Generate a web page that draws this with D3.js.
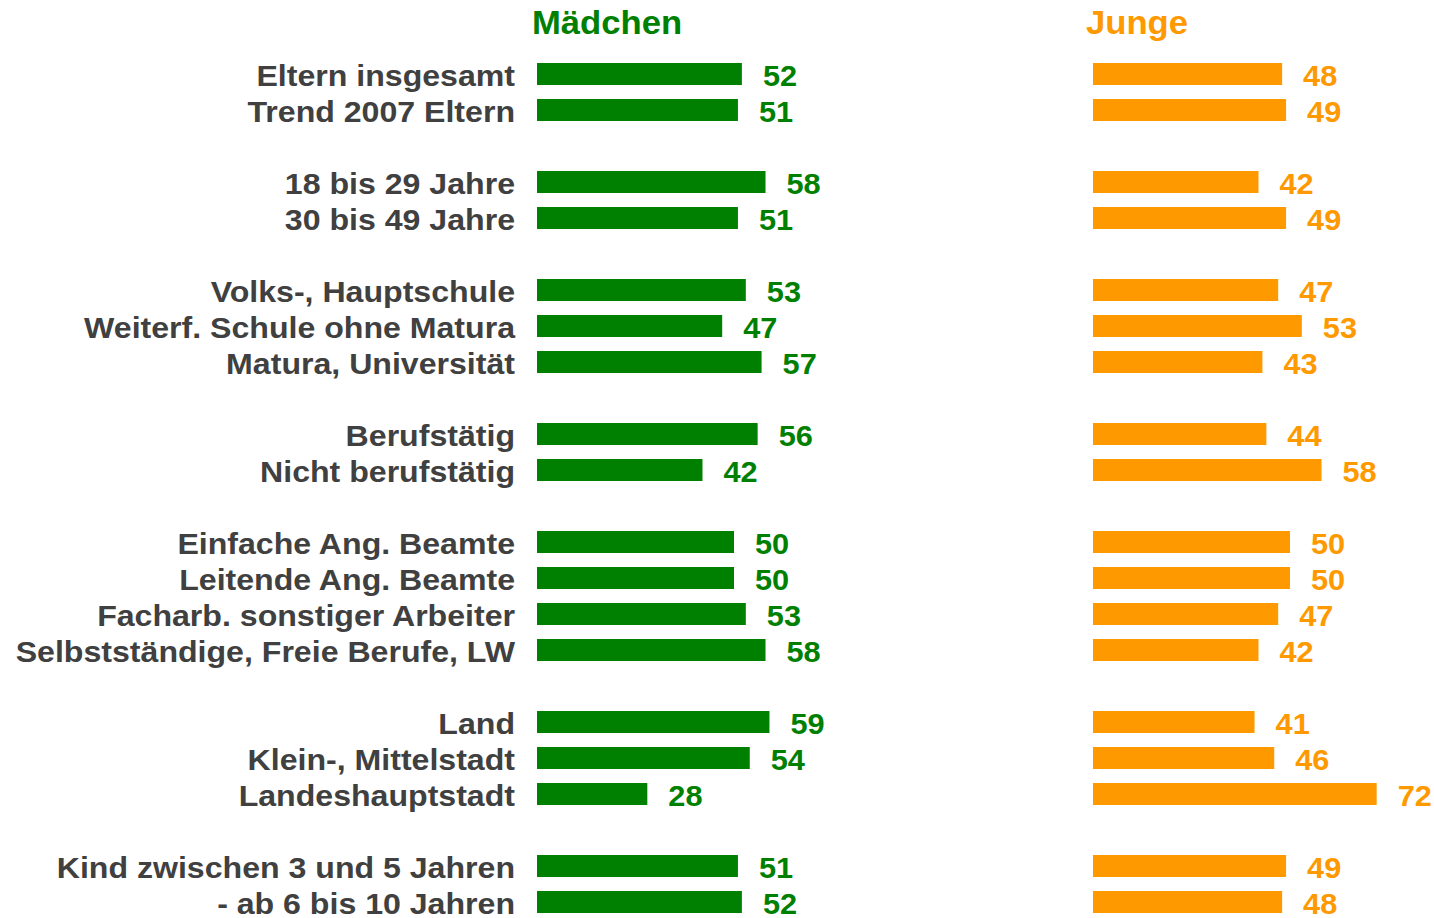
<!DOCTYPE html>
<html>
<head>
<meta charset="utf-8">
<script src="https://cdn.jsdelivr.net/npm/d3@7"></script>
<style>
  body { margin: 0; background: white; }
  text { font-family: "Liberation Sans", Arial, sans-serif; font-weight: bold; }
</style>
</head>
<body>
<div id="chart"></div>
<script>
const width = 1434;
const height = 918;

const categories = [
  "Eltern insgesamt", "Trend 2007 Eltern",
  "18 bis 29 Jahre", "30 bis 49 Jahre",
  "Volks-, Hauptschule", "Weiterf. Schule ohne Matura", "Matura, Universität",
  "Berufstätig", "Nicht berufstätig",
  "Einfache Ang. Beamte", "Leitende Ang. Beamte", "Facharb. sonstiger Arbeiter", "Selbstständige, Freie Berufe, LW",
  "Land", "Klein-, Mittelstadt", "Landeshauptstadt",
  "Kind zwischen 3 und 5 Jahren", "- ab 6 bis 10 Jahren"
];
// group each row belongs to (an empty row separates groups)
const groups = [0, 0, 1, 1, 2, 2, 2, 3, 3, 4, 4, 4, 4, 5, 5, 5, 6, 6];
const maedchen = [52, 51, 58, 51, 53, 47, 57, 56, 42, 50, 50, 53, 58, 59, 54, 28, 51, 52];
const junge = [48, 49, 42, 49, 47, 53, 43, 44, 58, 50, 50, 47, 42, 41, 46, 72, 49, 48];
const seriesNames = ["Mädchen", "Junge"];

const green = "#008000";
const orange = "#ff9900";
const labelColor = "#404040";

const rows = categories.map((c, i) => ({
  name: c,
  row: i + groups[i],
  m: maedchen[i],
  j: junge[i]
}));

const svg = d3.select("#chart")
  .append("svg")
  .attr("width", width)
  .attr("height", height);

const y = d3.scaleLinear().domain([0, 1]).range([74, 110]);
const xM = d3.scaleLinear().domain([0, 100]).range([537, 537 + 394]);
const xJ = d3.scaleLinear().domain([0, 100]).range([1093, 1093 + 394]);
const barH = 22;
const fontSize = 29;

// the original glyphs are a bit wider than Liberation Sans, so stretch them
const place = (x, yy, k) => `translate(${x},${yy}) scale(${k},1)`;

// category labels
svg.selectAll("text.cat")
  .data(rows)
  .enter()
  .append("text")
  .attr("class", "cat")
  .attr("transform", d => place(515, y(d.row) + 12, 1.107))
  .attr("text-anchor", "end")
  .attr("fill", labelColor)
  .style("font-size", fontSize + "px")
  .text(d => d.name);

const panels = [
  {key: "m", x: xM, color: green, name: seriesNames[0], hx: 532},
  {key: "j", x: xJ, color: orange, name: seriesNames[1], hx: 1086}
];

panels.forEach(p => {
  const g = svg.append("g");

  g.append("text")
    .attr("transform", place(p.hx, 34, 1.05))
    .attr("fill", p.color)
    .style("font-size", "33px")
    .text(p.name);

  g.selectAll("rect")
    .data(rows)
    .enter()
    .append("rect")
    .attr("x", p.x(0))
    .attr("y", d => y(d.row) - barH / 2)
    .attr("width", d => p.x(d[p.key]) - p.x(0))
    .attr("height", barH)
    .attr("fill", p.color);

  g.selectAll("text.val")
    .data(rows)
    .enter()
    .append("text")
    .attr("class", "val")
    .attr("transform", d => place(p.x(d[p.key]) + 21, y(d.row) + 12, 1.06))
    .attr("fill", p.color)
    .style("font-size", fontSize + "px")
    .text(d => d[p.key]);
});
</script>
</body>
</html>
